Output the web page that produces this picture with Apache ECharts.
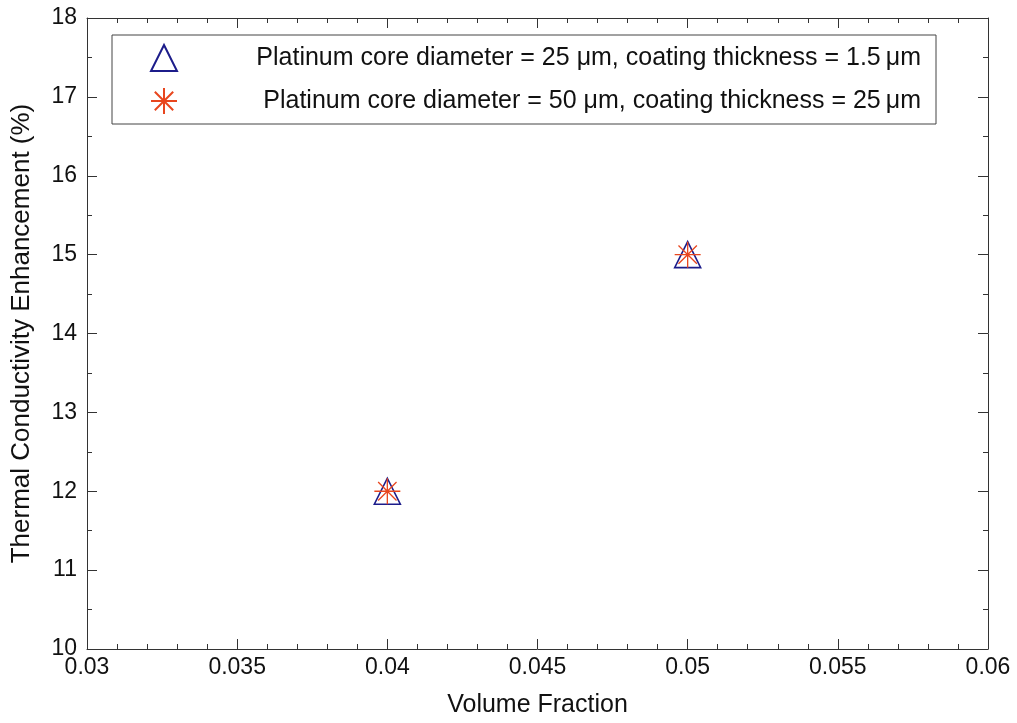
<!DOCTYPE html>
<html>
<head>
<meta charset="utf-8">
<script src="https://cdn.jsdelivr.net/npm/echarts@6/dist/echarts.min.js"></script>
<style>html,body{margin:0;padding:0;background:#fff}#c{width:1017px;height:723px}</style>
</head>
<body>
<div id="c"></div>
<script>
const volumeFraction = [0.04, 0.05];
const series25 = [12, 15];
const series50 = [12, 15];
const seriesNames = [
  'Platinum core diameter = 25 \u03bcm, coating thickness = 1.5\u2009\u03bcm',
  'Platinum core diameter = 50 \u03bcm, coating thickness = 25\u2009\u03bcm'
];
const xTitle = 'Volume Fraction';
const yTitle = 'Thermal Conductivity Enhancement (%)';

const FONT = 'Liberation Sans, Arial, sans-serif';
const AXIS_COLOR = '#333';
const ASTERISK = 'path://M0,-10L0,10M-10,0L10,0M-7.07,-7.07L7.07,7.07M-7.07,7.07L7.07,-7.07';

const chart = echarts.init(document.getElementById('c'), null, {renderer: 'canvas'});
const grid = {left: 87, right: 29, top: 18, bottom: 74};
const xCommon = {
  type: 'value', min: 0.03, max: 0.06, interval: 0.005,
  axisLine: {show: true, onZero: false, lineStyle: {color: AXIS_COLOR, width: 1}},
  axisTick: {show: true, inside: true, length: 10, lineStyle: {color: AXIS_COLOR}},
  minorTick: {show: true, splitNumber: 5, length: 5, lineStyle: {color: AXIS_COLOR}},
  splitLine: {show: false}
};
const yCommon = {
  type: 'value', min: 10, max: 18, interval: 1,
  axisLine: {show: true, onZero: false, lineStyle: {color: AXIS_COLOR, width: 1}},
  axisTick: {show: true, inside: true, length: 10, lineStyle: {color: AXIS_COLOR}},
  minorTick: {show: true, splitNumber: 2, length: 5, lineStyle: {color: AXIS_COLOR}},
  splitLine: {show: false}
};
chart.setOption({
  animation: false,
  backgroundColor: '#fff',
  grid: grid,
  xAxis: [
    Object.assign({}, xCommon, {
      position: 'bottom',
      name: xTitle, nameLocation: 'middle', nameGap: 44,
      nameTextStyle: {fontFamily: FONT, fontSize: 25, color: '#111'},
      axisLabel: {show: true, margin: 7, fontFamily: FONT, fontSize: 23, color: '#111',
        formatter: v => String(+v.toFixed(4))}
    }),
    Object.assign({}, xCommon, {position: 'top', axisLabel: {show: false}})
  ],
  yAxis: [
    Object.assign({}, yCommon, {
      position: 'left',
      name: yTitle, nameLocation: 'middle', nameGap: 52,
      nameTextStyle: {fontFamily: FONT, fontSize: 26, color: '#111'},
      axisLabel: {show: true, margin: 10, fontFamily: FONT, fontSize: 23, color: '#111'}
    }),
    Object.assign({}, yCommon, {position: 'right', axisLabel: {show: false}})
  ],
  legend: {
    show: true,
    orient: 'vertical',
    left: 112, top: 35,
    padding: [9, 15, 9, 38],
    itemWidth: 26, itemHeight: 26, itemGap: 15,
    borderColor: '#444', borderWidth: 1,
    backgroundColor: '#fff',
    data: seriesNames,
    formatter: n => '{t|' + n + '}',
    textStyle: {
      fontFamily: FONT, fontSize: 25, color: '#111',
      rich: {t: {width: 739, align: 'right', fontFamily: FONT, fontSize: 25, color: '#111'}}
    }
  },
  series: [
    {
      name: seriesNames[0], type: 'scatter',
      symbol: 'triangle', symbolSize: [26, 26],
      itemStyle: {color: 'rgba(255,255,255,0)', borderColor: '#1c1c8a', borderWidth: 1.6, opacity: 1},
      data: volumeFraction.map((x, i) => [x, series25[i]]),
      z: 2
    },
    {
      name: seriesNames[1], type: 'scatter',
      symbol: ASTERISK, symbolSize: 26,
      itemStyle: {color: 'rgba(0,0,0,0)', borderColor: '#e8461e', borderWidth: 1.3, opacity: 1},
      data: volumeFraction.map((x, i) => [x, series50[i]]),
      z: 3
    }
  ]
});
</script>
</body>
</html>
